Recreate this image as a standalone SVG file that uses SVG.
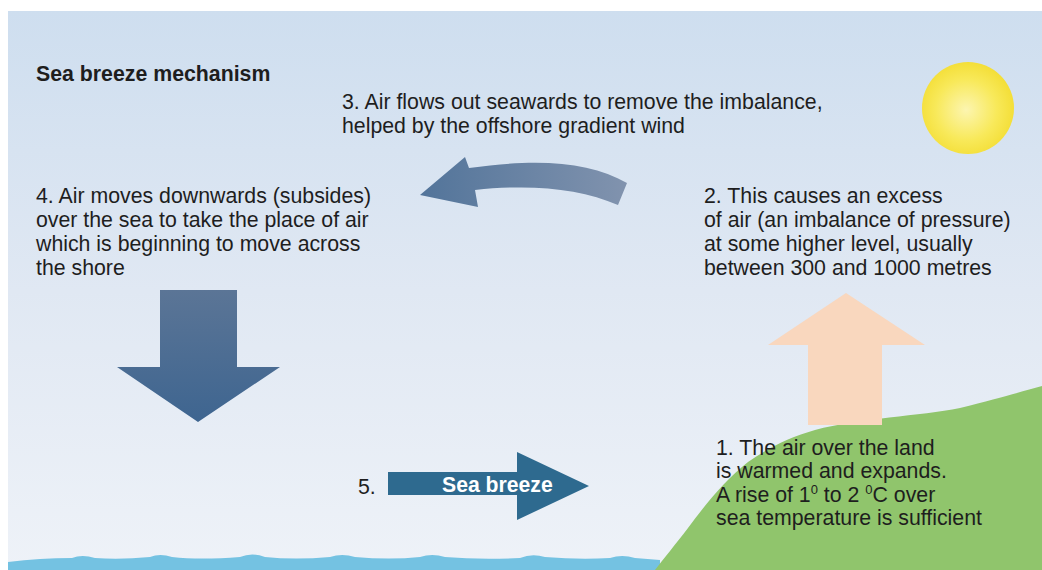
<svg xmlns="http://www.w3.org/2000/svg" width="1042" height="570" viewBox="0 0 1042 570">
  <defs>
    <linearGradient id="sky" x1="0" y1="0" x2="0" y2="1">
      <stop offset="0" stop-color="#cedeef"/>
      <stop offset="0.5" stop-color="#e0e8f3"/>
      <stop offset="1" stop-color="#eef2f8"/>
    </linearGradient>
    <radialGradient id="sunGrad" cx="0.48" cy="0.52" r="0.55">
      <stop offset="0" stop-color="#fcf5b0"/>
      <stop offset="0.6" stop-color="#f8e95a"/>
      <stop offset="1" stop-color="#f3dd33"/>
    </radialGradient>
    <linearGradient id="curveGrad" x1="420" y1="0" x2="627" y2="0" gradientUnits="userSpaceOnUse">
      <stop offset="0" stop-color="#52749a"/>
      <stop offset="1" stop-color="#8193ae"/>
    </linearGradient>
    <linearGradient id="downGrad" x1="0" y1="290" x2="0" y2="422" gradientUnits="userSpaceOnUse">
      <stop offset="0" stop-color="#5b7596"/>
      <stop offset="1" stop-color="#3e6590"/>
    </linearGradient>
    <style>
      .txt { font-family: "Liberation Sans", Arial, sans-serif; font-size: 21.3px; fill: #1e1e1e; }
      .title { font-weight: bold; }
      .label { font-family: "Liberation Sans", Arial, sans-serif; font-size: 21.2px; font-weight: bold; fill: #ffffff; }
      .sup { font-size: 13px; }
    </style>
  </defs>

  <!-- page and sky -->
  <rect x="0" y="0" width="1042" height="570" fill="#ffffff"/>
  <rect x="8" y="11" width="1034" height="559" fill="url(#sky)"/>

  <!-- sun -->
  <circle id="sun" cx="968" cy="108" r="46" fill="url(#sunGrad)"/>

  <!-- sea -->
  <path id="sea" fill="#74c2e2" d="M8,562 Q40,558 72,558 Q82,554 95,558 Q120,560 150,557 Q160,553 172,557 Q200,560 240,557 Q252,552 265,557 Q295,560 330,557 Q342,553 355,557 Q390,560 420,557 Q432,553 445,557 Q480,560 520,558 Q532,553 545,557 Q580,560 610,558 Q622,554 635,558 L660,560 L660,570 L8,570 Z"/>

  <!-- land -->
  <path id="land" fill="#90c56c" d="M1042,386 C1020,392 1000,398 960,408 C920,416 860,418 815,430 C790,437 768,448 748,462 C725,480 705,505 688,528 C675,545 664,558 655,570 L1042,570 Z"/>

  <!-- arrows -->
  <g id="connectors">
    <path id="arrow-up" fill="#f9d7be" d="M846,293 L925,345 L882,345 L882,425 L808,425 L808,345 L768,345 Z"/>
    <path id="arrow-seaward" fill="url(#curveGrad)" d="M627,183 C590,162 540,158 469,168 L465,157 L420,195 L478,207 L475,190 C530,184 580,188 618,205 Z"/>
    <path id="arrow-down" fill="url(#downGrad)" d="M160,290 L237,290 L237,367 L280,367 L198,422 L117,367 L160,367 Z"/>
    <path id="arrow-breeze" fill="#2e6a8f" d="M388,472 L517,472 L517,452 L589,486 L517,520 L517,495 L388,495 Z"/>
  </g>

  <g id="title">
    <text class="txt title" x="36" y="81">Sea breeze mechanism</text>
  </g>

  <g id="step3">
    <text class="txt" x="342" y="109">3. Air flows out seawards to remove the imbalance,</text>
    <text class="txt" x="342" y="133">helped by the offshore gradient wind</text>
  </g>

  <g id="step4">
    <text class="txt" x="36" y="203">4. Air moves downwards (subsides)</text>
    <text class="txt" x="36" y="227">over the sea to take the place of air</text>
    <text class="txt" x="36" y="251">which is beginning to move across</text>
    <text class="txt" x="36" y="275">the shore</text>
  </g>

  <g id="step2">
    <text class="txt" x="704" y="203">2. This causes an excess</text>
    <text class="txt" x="704" y="227">of air (an imbalance of pressure)</text>
    <text class="txt" x="704" y="251">at some higher level, usually</text>
    <text class="txt" x="704" y="275">between 300 and 1000 metres</text>
  </g>

  <g id="step1">
    <text class="txt" x="716" y="455">1. The air over the land</text>
    <text class="txt" x="716" y="478">is warmed and expands.</text>
    <text class="txt" x="716" y="502">A rise of 1<tspan class="sup" dy="-8">0</tspan><tspan dy="8"> to 2 </tspan><tspan class="sup" dy="-8">0</tspan><tspan dy="8">C over</tspan></text>
    <text class="txt" x="716" y="525">sea temperature is sufficient</text>
  </g>

  <g id="step5">
    <text class="txt" x="358" y="494">5.</text>
    <text class="label" x="442" y="492">Sea breeze</text>
  </g>
</svg>
